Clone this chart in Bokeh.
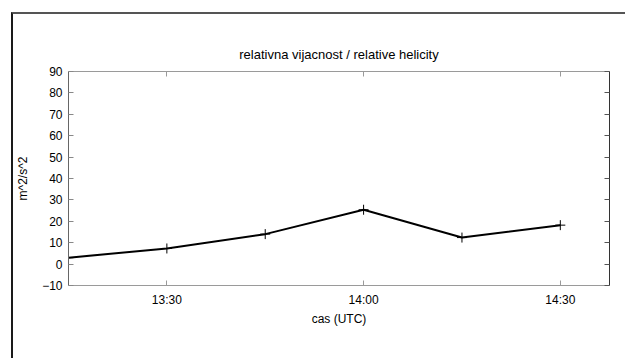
from datetime import datetime
from bokeh.plotting import figure
from bokeh.models import (Range1d, FixedTicker, DatetimeTickFormatter, LinearAxis,
                          DatetimeAxis, ColumnDataSource)
from bokeh.embed import file_html
from bokeh.resources import INLINE

# data
times = ["13:15", "13:30", "13:45", "14:00", "14:15", "14:30"]
values = [3.0, 7.3, 14.0, 25.4, 12.4, 18.2]
x_ticks = ["13:30", "14:00", "14:30"]
y_ticks = [-10, 0, 10, 20, 30, 40, 50, 60, 70, 80, 90]
x_start, x_end = "13:15", "14:37:30"

def t(s):
    fmt = "%H:%M:%S" if s.count(":") == 2 else "%H:%M"
    d = datetime.strptime(s, fmt)
    return datetime(2010, 6, 1, d.hour, d.minute, d.second)

def ms(s):
    return (t(s) - datetime(1970, 1, 1)).total_seconds() * 1000.0

src = ColumnDataSource(dict(x=[t(s) for s in times], y=values))

FONT = "Liberation Sans"
p = figure(width=614, height=346, output_backend="svg", toolbar_location=None,
           x_axis_type="datetime",
           x_range=Range1d(t(x_start), t(x_end)), y_range=Range1d(-10, 90),
           min_border_left=54, min_border_right=18, min_border_top=57, min_border_bottom=75)
p.margin = (12, 0, 0, 11)
p.styles = {"border-left": "2px solid #1a1a1a", "border-top": "2px solid #555555"}
p.background_fill_color = "white"
p.border_fill_color = "white"
p.outline_line_color = None
p.grid.visible = False

p.title.text = "relativna vijacnost / relative helicity"
p.title.align = "center"
p.title.text_font = FONT
p.title.text_font_size = "13px"
p.title.text_font_style = "normal"
p.title.text_color = "black"
p.title.standoff = 20

xa = p.xaxis[0]
xa.ticker = FixedTicker(ticks=[ms(s) for s in x_ticks])
xa.formatter = DatetimeTickFormatter(hours="%H:%M", minutes="%H:%M", hourmin="%H:%M")
xa.axis_label = "cas (UTC)"
ya = p.yaxis[0]
ya.ticker = FixedTicker(ticks=y_ticks)
ya.axis_label = "m^2/s^2"

for ax in (xa, ya):
    ax.major_tick_in = 5
    ax.major_tick_out = 0
    ax.minor_tick_in = 0
    ax.minor_tick_out = 0
    ax.major_label_text_font = FONT
    ax.major_label_text_font_size = "12px"
    ax.major_label_text_color = "black"
    ax.axis_label_text_font = FONT
    ax.axis_label_text_font_style = "normal"
    ax.axis_label_text_color = "black"
    ax.axis_label_text_font_size = "12px"

xa.axis_line_color = "#9a9a9a"
xa.major_tick_line_color = "#9a9a9a"
xa.major_label_standoff = 7
xa.axis_label_standoff = 2
ya.axis_line_color = "#666666"
ya.major_tick_line_color = "#888888"
ya.major_label_standoff = 6
ya.axis_label_standoff = 9

top = DatetimeAxis(ticker=FixedTicker(ticks=[ms(s) for s in x_ticks]),
                   major_label_overrides={ms(s): "" for s in x_ticks},
                   major_tick_in=5, major_tick_out=0,
                   minor_tick_in=0, minor_tick_out=0, axis_line_color="#9a9a9a",
                   major_tick_line_color="#9a9a9a", major_label_standoff=0)
p.add_layout(top, "above")
right = LinearAxis(ticker=FixedTicker(ticks=y_ticks),
                   major_label_overrides={v: "" for v in y_ticks},
                   major_tick_in=5, major_tick_out=0,
                   minor_tick_in=0, minor_tick_out=0, axis_line_color="#333333",
                   major_tick_line_color="#555555", major_label_standoff=0)
p.add_layout(right, "right")

p.line("x", "y", source=src, line_color="black", line_width=2)
p.scatter("x", "y", source=src, marker="cross", size=10, line_color="black", line_width=1)

open("out.html", "w").write(file_html(p, INLINE))
